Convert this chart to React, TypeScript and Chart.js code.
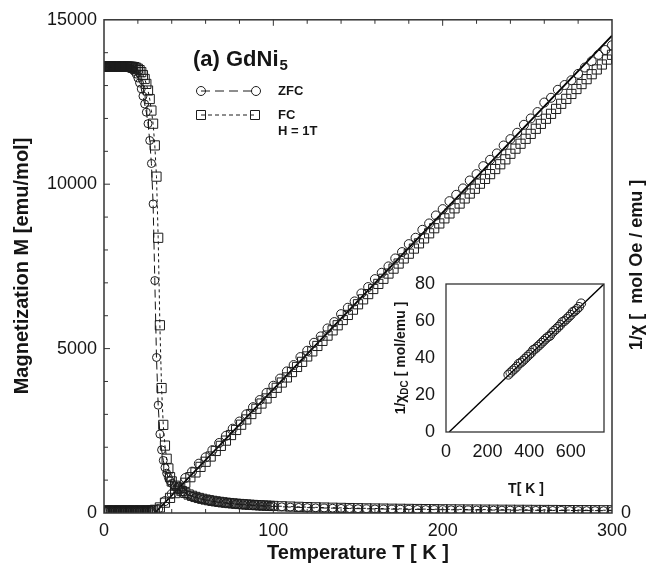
import { useEffect, useRef } from "react";
import { Chart, registerables } from "chart.js";

Chart.register(...registerables);

const FONT = '"Liberation Sans", Arial, Helvetica, sans-serif';
const INK = "#151515";
const MARK = "#1c1c1c";

// ---------- Magnetization M(T) (left axis, emu/mol) ----------
const T_M = [
  0.5, 1, 1.5, 2, 2.5, 3, 3.5, 4, 4.5, 5, 5.5, 6, 6.5, 7, 7.5, 8, 8.5, 9, 9.5, 10,
  10.5, 11, 11.5, 12, 12.5, 13, 13.5, 14, 14.5, 15, 15.5, 16, 16.5,
  17, 18, 19, 20, 21, 22, 23, 24, 25, 26, 27, 28, 29, 30, 31, 32, 33, 34, 35, 36, 37, 38, 39, 40,
  42, 44, 46, 48, 50, 52, 54, 56, 58, 60, 62, 64, 66, 68, 70, 72, 74, 76, 78, 80,
  82, 84, 86, 88, 90, 92, 94, 96, 98, 100,
  105, 110, 115, 120, 125, 130, 135, 140, 145, 150, 155, 160, 165, 170, 175, 180, 185, 190, 195, 200,
  205, 210, 215, 220, 225, 230, 235, 240, 245, 250, 255, 260, 265, 270, 275, 280, 285, 290, 295, 300,
];

const M_ZFC = [
  13550, 13560, 13555, 13550, 13560, 13550, 13555, 13560, 13550, 13550, 13560, 13555, 13550, 13560,
  13550, 13555, 13550, 13560, 13550, 13555, 13550, 13560, 13550, 13555, 13550, 13550, 13545,
  13540, 13535, 13530, 13520, 13510, 13495,
  13480, 13430, 13350, 13230, 13080, 12900, 12680, 12440, 12190, 11840,
  11330, 10630, 9400, 7070, 4730, 3280, 2400, 1920, 1600, 1380, 1210, 1080, 980, 900,
  800, 715, 645, 590, 545, 505, 470, 440, 415, 392, 372, 354, 338, 323, 310, 298, 287, 277, 268, 259,
  251, 244, 237, 230, 224, 218, 213, 208, 203, 198,
  188, 179, 171, 164, 157, 151, 146, 141, 136, 132, 128, 124, 120, 117, 114, 111, 108, 105, 103, 100,
  98, 96, 94, 92, 90, 88, 87, 85, 84, 82, 81, 80, 78, 77, 76, 75, 74, 73, 72, 71,
];

const M_FC = [
  13580, 13590, 13585, 13580, 13590, 13585, 13580, 13590, 13580, 13585, 13590, 13580, 13585, 13580,
  13590, 13585, 13580, 13585, 13580, 13590, 13580, 13585, 13580, 13580, 13575, 13575, 13575,
  13575, 13572, 13570, 13570, 13570, 13568,
  13565, 13560, 13540, 13510, 13470, 13410, 13320, 13200, 13050, 12850, 12590, 12240,
  11840, 11180, 10230, 8370, 5710, 3800, 2680, 2050, 1650, 1355, 1090, 960,
  830, 740, 668, 610, 562, 522, 488, 458, 432, 409, 389, 370, 354, 339, 325, 313, 302, 292, 282, 274,
  266, 258, 251, 245, 239, 233, 228, 223, 218, 214,
  204, 195, 187, 179, 172, 166, 160, 155, 150, 146, 141, 137, 134, 130, 127, 124, 121, 118, 116, 113,
  111, 109, 107, 105, 103, 101, 99, 98, 96, 95, 93, 92, 91, 89, 88, 87, 86, 85, 84, 83,
];

// ---------- 1/chi (right axis, mol Oe / emu) ----------
const T_INV_ZFC = [
  0, 1, 2, 3, 4, 5, 6, 7, 8, 9, 10, 11, 12, 13, 14, 15, 16, 17, 18, 19, 20, 21, 22, 23, 24, 25, 26, 27, 28,
  32, 36, 40, 44, 48, 52, 56, 60, 64, 68, 72, 76,
  80, 84, 88, 92, 96, 100, 104, 108, 112, 116, 120, 124, 128, 132, 136, 140, 144, 148, 152, 156,
  160, 164, 168, 172, 176, 180, 184, 188, 192, 196, 200, 204, 208, 212, 216, 220, 224, 228, 232, 236,
  240, 244, 248, 252, 256, 260, 264, 268, 272, 276, 280, 284, 288, 292, 296, 300,
];
const INV_ZFC = [
  0.1, 0.1, 0.1, 0.1, 0.1, 0.1, 0.1, 0.1, 0.1, 0.1, 0.1, 0.1, 0.1, 0.1, 0.1,
  0.1, 0.1, 0.1, 0.1, 0.1, 0.1, 0.1, 0.1, 0.1, 0.1, 0.1, 0.1, 0.1, 0.1,
  0.25, 0.75, 1.2, 1.65, 2.2, 2.6, 3.1, 3.5, 3.95, 4.4,
  4.85, 5.3, 5.75, 6.2, 6.65, 7.1, 7.55, 8.0, 8.45, 8.9,
  9.3, 9.8, 10.2, 10.7, 11.1, 11.6, 12.0, 12.5, 12.9, 13.3,
  13.8, 14.2, 14.7, 15.1, 15.5, 16.0, 16.4, 16.9, 17.3, 17.8,
  18.2, 18.7, 19.1, 19.6, 20.0, 20.4, 20.9, 21.3, 21.8, 22.2,
  22.6, 23.1, 23.5, 23.9, 24.4, 24.8, 25.2, 25.8, 26.1, 26.6,
  26.9, 27.2, 27.6, 28.0, 28.4, 28.8, 29.1, 29.4,
];

const T_INV_FC = [
  0, 1, 2, 3, 4, 5, 6, 7, 8, 9, 10, 11, 12, 13, 14, 15, 16, 17, 18, 19, 20, 21, 22, 23, 24, 25, 26, 27, 28, 29,
  30, 33, 36, 39, 42, 45, 48, 51, 54, 57,
  60, 63, 66, 69, 72, 75, 78, 81, 84, 87, 90, 93, 96, 99, 102, 105, 108, 111, 114, 117,
  120, 123, 126, 129, 132, 135, 138, 141, 144, 147, 150, 153, 156, 159, 162, 165, 168, 171, 174, 177,
  180, 183, 186, 189, 192, 195, 198, 201, 204, 207, 210, 213, 216, 219, 222, 225, 228, 231, 234, 237,
  240, 243, 246, 249, 252, 255, 258, 261, 264, 267, 270, 273, 276, 279, 282, 285, 288, 291, 294, 297, 300,
];
const INV_FC = [
  0.15, 0.14, 0.16, 0.15, 0.14, 0.16, 0.15, 0.15, 0.14, 0.16, 0.15, 0.15, 0.14, 0.16, 0.15,
  0.15, 0.14, 0.16, 0.15, 0.15, 0.14, 0.16, 0.15, 0.15, 0.14, 0.16, 0.15, 0.15, 0.16, 0.17,
  0.2, 0.35, 0.65, 0.95, 1.25, 1.6, 1.9, 2.25, 2.55, 2.9,
  3.22, 3.55, 3.9, 4.22, 4.55, 4.9, 5.22, 5.55, 5.88, 6.22,
  6.55, 6.88, 7.2, 7.55, 7.87, 8.2, 8.52, 8.86, 9.18, 9.5,
  9.84, 10.16, 10.5, 10.82, 11.15, 11.48, 11.8, 12.13, 12.45, 12.78,
  13.12, 13.43, 13.76, 14.08, 14.4, 14.72, 15.05, 15.36, 15.68, 16.0,
  16.3, 16.62, 16.95, 17.26, 17.58, 17.9, 18.2, 18.52, 18.83, 19.15,
  19.45, 19.77, 20.08, 20.38, 20.7, 21.0, 21.3, 21.62, 21.92, 22.23,
  22.58, 22.9, 23.21, 23.52, 23.83, 24.15, 24.46, 24.78, 25.09, 25.4,
  25.72, 26.03, 26.34, 26.65, 26.96, 27.27, 27.58, 27.88, 28.19, 28.5,
  28.8,
];

const FIT_T = [30, 300];
const FIT_INV = [0, 30];

// ---------- Inset: 1/chi_DC vs T ----------
const T_INSET = [
  300, 310, 320, 330, 340, 350, 360, 370, 380, 390, 400, 410, 420, 430, 440, 450, 460, 470,
  480, 490, 500, 510, 520, 530, 540, 550, 560, 570, 580, 590, 600, 610, 620, 630, 640, 650,
];
const INV_INSET = [
  31.0, 32.1, 33.2, 34.2, 35.3, 36.9, 37.5, 38.5, 39.6, 40.7, 41.8, 42.8, 44.4, 45.0, 46.1, 47.1, 48.2, 49.3,
  50.4, 51.4, 52.0, 53.6, 54.7, 55.7, 56.8, 57.9, 59.5, 60.0, 61.1, 62.2, 63.3, 64.9, 65.4, 66.5, 67.6, 69.5,
];
const INSET_FIT_T = [15, 760];
const INSET_FIT_INV = [0, 80];

// ---------- ticks ----------
const X_TICKS = [0, 100, 200, 300];
const Y_TICKS = [0, 5000, 10000, 15000];
const Y2_TICKS = [0];
const INSET_X_TICKS = [0, 200, 400, 600];
const INSET_Y_TICKS = [0, 20, 40, 60, 80];
const MINOR_Y_STEP = 1000;
const MINOR_X_STEP = 20;

function pts(xs: number[], ys: number[]) {
  return xs.map((x, i) => ({ x, y: ys[i] }));
}

function fixedTicks(values: number[]) {
  return (scale: any) => {
    scale.ticks = values.map((v) => ({ value: v }));
  };
}

function marker(ctx: CanvasRenderingContext2D, kind: string, x: number, y: number) {
  ctx.beginPath();
  if (kind === "circle") ctx.arc(x, y, 4.5, 0, Math.PI * 2);
  else ctx.rect(x - 4.5, y - 4.5, 9, 9);
  ctx.stroke();
}

const mainDecor = {
  id: "mainDecor",
  afterDraw(chart: any) {
    const { ctx, chartArea: a, scales } = chart;
    ctx.save();
    ctx.strokeStyle = "#333";
    ctx.lineWidth = 1.5;
    ctx.setLineDash([]);
    ctx.strokeRect(a.left, a.top, a.right - a.left, a.bottom - a.top);

    // inward minor ticks
    ctx.lineWidth = 1;
    ctx.beginPath();
    for (let v = MINOR_Y_STEP; v < scales.y.max; v += MINOR_Y_STEP) {
      const y = scales.y.getPixelForValue(v);
      const len = v % 5000 === 0 ? 6 : 4;
      ctx.moveTo(a.left, y);
      ctx.lineTo(a.left + len, y);
    }
    for (let t = MINOR_X_STEP; t < scales.x.max; t += MINOR_X_STEP) {
      const x = scales.x.getPixelForValue(t);
      const len = t % 100 === 0 ? 6 : 4;
      ctx.moveTo(x, a.top);
      ctx.lineTo(x, a.top + len);
      ctx.moveTo(x, a.bottom);
      ctx.lineTo(x, a.bottom - len);
    }
    ctx.stroke();

    ctx.fillStyle = INK;
    // panel title
    ctx.textAlign = "left";
    ctx.textBaseline = "alphabetic";
    ctx.font = `bold 22px ${FONT}`;
    ctx.fillText("(a) GdNi", 193, 66);
    const w = ctx.measureText("(a) GdNi").width;
    ctx.font = `bold 15px ${FONT}`;
    ctx.fillText("5", 193 + w + 1, 70);

    // legend
    ctx.strokeStyle = MARK;
    ctx.lineWidth = 1;
    ctx.setLineDash([9, 5]);
    ctx.beginPath();
    ctx.moveTo(201, 91);
    ctx.lineTo(256, 91);
    ctx.stroke();
    ctx.setLineDash([4, 3]);
    ctx.beginPath();
    ctx.moveTo(201, 115);
    ctx.lineTo(255, 115);
    ctx.stroke();
    ctx.setLineDash([]);
    marker(ctx, "circle", 201, 91);
    marker(ctx, "circle", 256, 91);
    marker(ctx, "rect", 201, 115);
    marker(ctx, "rect", 255, 115);
    ctx.font = `bold 13px ${FONT}`;
    ctx.textBaseline = "middle";
    ctx.fillText("ZFC", 278, 91);
    ctx.fillText("FC", 278, 115);
    ctx.fillText("H = 1T", 278, 131);

    // axis titles
    ctx.font = `bold 20px ${FONT}`;
    ctx.textAlign = "center";
    ctx.fillText("Temperature T [ K ]", 358, 553);
    ctx.save();
    ctx.translate(22, 266);
    ctx.rotate(-Math.PI / 2);
    ctx.fillText("Magnetization M [emu/mol]", 0, 0);
    ctx.restore();
    ctx.save();
    ctx.translate(637, 265);
    ctx.rotate(-Math.PI / 2);
    ctx.font = `bold 18px ${FONT}`;
    ctx.fillText("1/\u03c7 [  mol Oe / emu ]", 0, 0);
    ctx.restore();
    ctx.restore();
  },
};

const insetDecor = {
  id: "insetDecor",
  afterDraw(chart: any) {
    const { ctx, chartArea: a } = chart;
    ctx.save();
    ctx.strokeStyle = "#333";
    ctx.lineWidth = 1.3;
    ctx.setLineDash([]);
    ctx.strokeRect(a.left, a.top, a.right - a.left, a.bottom - a.top);
    ctx.fillStyle = INK;
    ctx.font = `bold 14px ${FONT}`;
    ctx.textAlign = "center";
    ctx.textBaseline = "middle";
    ctx.fillText("T[ K ]", (a.left + a.right) / 2 + 1, 489);

    // rotated y title with subscript
    ctx.translate(401, (a.top + a.bottom) / 2);
    ctx.rotate(-Math.PI / 2);
    ctx.textAlign = "left";
    ctx.textBaseline = "middle";
    const p1 = "1/\u03c7";
    const p2 = "DC";
    const p3 = " [ mol/emu ]";
    ctx.font = `bold 14px ${FONT}`;
    const w1 = ctx.measureText(p1).width;
    const w3 = ctx.measureText(p3).width;
    ctx.font = `bold 10px ${FONT}`;
    const w2 = ctx.measureText(p2).width;
    let x = -(w1 + w2 + w3) / 2;
    ctx.font = `bold 14px ${FONT}`;
    ctx.fillText(p1, x, 0);
    x += w1;
    ctx.font = `bold 10px ${FONT}`;
    ctx.fillText(p2, x, 4);
    x += w2;
    ctx.font = `bold 14px ${FONT}`;
    ctx.fillText(p3, x, 0);
    ctx.restore();
  },
};

export default function App() {
  const mainRef = useRef<HTMLCanvasElement>(null);
  const insetRef = useRef<HTMLCanvasElement>(null);

  useEffect(() => {
    document.body.style.margin = "0";
    const tickFont = { family: FONT, size: 18 };
    const clear = "rgba(0,0,0,0)";

    const main = new Chart(mainRef.current as HTMLCanvasElement, {
      type: "scatter",
      data: {
        datasets: [
          {
            label: "ZFC",
            data: pts(T_M, M_ZFC),
            yAxisID: "y",
            showLine: true,
            borderColor: INK,
            borderWidth: 1,
            borderDash: [8, 4],
            backgroundColor: clear,
            pointStyle: "circle",
            pointRadius: 4,
            pointBorderWidth: 1,
            pointBorderColor: MARK,
            pointBackgroundColor: clear,
          },
          {
            label: "FC",
            data: pts(T_M, M_FC),
            yAxisID: "y",
            showLine: true,
            borderColor: INK,
            borderWidth: 1,
            borderDash: [3, 3],
            backgroundColor: clear,
            pointStyle: "rect",
            pointRadius: 6.5,
            pointBorderWidth: 1,
            pointBorderColor: MARK,
            pointBackgroundColor: clear,
          },
          {
            label: "1/chi ZFC",
            data: pts(T_INV_ZFC, INV_ZFC),
            yAxisID: "y2",
            showLine: false,
            pointStyle: "circle",
            pointRadius: 4.5,
            pointBorderWidth: 1,
            pointBorderColor: MARK,
            pointBackgroundColor: clear,
          },
          {
            label: "1/chi FC",
            data: pts(T_INV_FC, INV_FC),
            yAxisID: "y2",
            showLine: false,
            pointStyle: "rect",
            pointRadius: 6.5,
            pointBorderWidth: 1,
            pointBorderColor: MARK,
            pointBackgroundColor: clear,
          },
          {
            label: "fit",
            data: pts(FIT_T, FIT_INV),
            yAxisID: "y2",
            showLine: true,
            pointRadius: 0,
            borderColor: "#000",
            borderWidth: 1.8,
          },
        ],
      },
      options: {
        responsive: false,
        animation: false,
        devicePixelRatio: 1,
        events: [],
        layout: { padding: { top: 15, left: 0, right: 0, bottom: 0 } },
        plugins: { legend: { display: false }, tooltip: { enabled: false } },
        scales: {
          x: {
            type: "linear",
            position: "bottom",
            min: 0,
            max: 300,
            afterBuildTicks: fixedTicks(X_TICKS),
            afterFit: (s: any) => {
              s.height = 64;
            },
            grid: { display: false, drawTicks: false },
            border: { display: false },
            ticks: { font: tickFont, color: INK, padding: 7, maxRotation: 0, callback: (v: any) => String(v) },
          },
          y: {
            type: "linear",
            position: "left",
            min: 0,
            max: 15000,
            afterBuildTicks: fixedTicks(Y_TICKS),
            afterFit: (s: any) => {
              s.width = 104;
            },
            grid: { display: false, drawTicks: false },
            border: { display: false },
            ticks: { font: tickFont, color: INK, padding: 7, callback: (v: any) => String(v) },
          },
          y2: {
            type: "linear",
            position: "right",
            min: 0,
            max: 31,
            afterBuildTicks: fixedTicks(Y2_TICKS),
            afterFit: (s: any) => {
              s.width = 39;
            },
            grid: { display: false, drawTicks: false },
            border: { display: false },
            ticks: { font: tickFont, color: INK, padding: 9, callback: (v: any) => String(v) },
          },
        },
      },
      plugins: [mainDecor],
    } as any);

    const insetFont = { family: FONT, size: 18 };
    const inset = new Chart(insetRef.current as HTMLCanvasElement, {
      type: "scatter",
      data: {
        datasets: [
          {
            label: "inset data",
            data: pts(T_INSET, INV_INSET),
            showLine: false,
            pointStyle: "circle",
            pointRadius: 4.5,
            pointBorderWidth: 1,
            pointBorderColor: MARK,
            pointBackgroundColor: clear,
          },
          {
            label: "inset fit",
            data: pts(INSET_FIT_T, INSET_FIT_INV),
            showLine: true,
            pointRadius: 0,
            borderColor: "#000",
            borderWidth: 1.4,
          },
        ],
      },
      options: {
        responsive: false,
        animation: false,
        devicePixelRatio: 1,
        events: [],
        layout: { padding: { top: 284, left: 0, right: 47, bottom: 85 } },
        plugins: { legend: { display: false }, tooltip: { enabled: false } },
        scales: {
          x: {
            type: "linear",
            min: 0,
            max: 760,
            afterBuildTicks: fixedTicks(INSET_X_TICKS),
            afterFit: (s: any) => {
              s.height = 60;
            },
            grid: { display: false, drawTicks: false },
            border: { display: false },
            ticks: { font: insetFont, color: INK, padding: 9, maxRotation: 0, callback: (v: any) => String(v) },
          },
          y: {
            type: "linear",
            min: 0,
            max: 80,
            afterBuildTicks: fixedTicks(INSET_Y_TICKS),
            afterFit: (s: any) => {
              s.width = 446;
            },
            grid: { display: false, drawTicks: false },
            border: { display: false },
            ticks: { font: insetFont, color: INK, padding: 11, callback: (v: any) => String(v) },
          },
        },
      },
      plugins: [insetDecor],
    } as any);

    return () => {
      main.destroy();
      inset.destroy();
    };
  }, []);

  return (
    <div style={{ position: "relative", width: 651, height: 577, background: "#fff" }}>
      <canvas ref={mainRef} width={651} height={577} style={{ position: "absolute", left: 0, top: 0 }} />
      <canvas ref={insetRef} width={651} height={577} style={{ position: "absolute", left: 0, top: 0 }} />
    </div>
  );
}
